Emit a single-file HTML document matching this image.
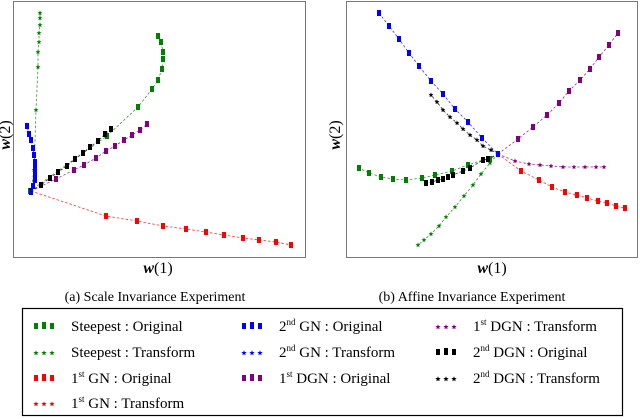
<!DOCTYPE html>
<html><head><meta charset="utf-8"><style>
body{margin:0;background:#fff;}
svg{display:block;font-family:"Liberation Serif",serif;}
</style></head><body>
<svg id="fig" width="640" height="419" viewBox="0 0 640 419">
<rect x="13.5" y="1.5" width="292" height="256" fill="none" stroke="#777" stroke-width="1"/>
<rect x="346.5" y="1.5" width="291" height="256" fill="none" stroke="#777" stroke-width="1"/>
<g id="pa"></g>
<g id="pb"></g>
<text x="158" y="273" font-size="16" text-anchor="middle" font-style="italic" font-weight="bold">w<tspan font-style="normal" font-weight="normal">(1)</tspan></text>
<text x="492" y="273" font-size="16" text-anchor="middle" font-style="italic" font-weight="bold">w<tspan font-style="normal" font-weight="normal">(1)</tspan></text>
<text transform="translate(10,135) rotate(-90)" font-size="16" text-anchor="middle" font-style="italic" font-weight="bold">w<tspan font-style="normal" font-weight="normal">(2)</tspan></text>
<text transform="translate(340,135) rotate(-90)" font-size="16" text-anchor="middle" font-style="italic" font-weight="bold">w<tspan font-style="normal" font-weight="normal">(2)</tspan></text>
<text x="155" y="301" font-size="14" text-anchor="middle">(a) Scale Invariance Experiment</text>
<text x="472" y="301" font-size="14" text-anchor="middle">(b) Affine Invariance Experiment</text>
<rect x="22.5" y="308.5" width="600" height="107" fill="none" stroke="#000" stroke-width="1.2"/>
<g id="leg"></g>
</svg>
<script>
// Panel A data (plot units)
const aGreenOrigX=[17,94,125,139,145,149,150,150,148,145];
const aGreenOrigY=[66,121,150,168,177,188,198,205,215,221];
const aGreenStarX=[18,21,23,25,25,26,26,27,27,27];
const aGreenStarY=[66,87,147,190,205,215,224,232,239,244];
const aBlueX=[18,20,22,22,22,22,21,20,18,16,14];
const aBlueY=[65,71,77,83,89,95,102,109,117,123,131];
const aBlackX=[18,28,37,45,54,62,70,77,85,92,98];
const aBlackY=[66,72,79,85,91,98,104,110,116,123,128];
const aPurpleX=[18,43,61,71,83,93,102,111,119,127,134];
const aPurpleY=[66,78,87,92,99,106,111,117,122,127,133];
const aRedX=[18,93,124,150,173,193,211,230,246,263,278];
const aRedY=[66,41,36,31,28,25,22,19,17,15,12];
// Panel B data
const bBlueX=[33,43,53,63,73,85,97,109,122,136,152];
const bBlueY=[244,231,218,204,191,176,163,148,135,119,103];
const bPurpleX=[152,172,187,201,213,223,234,244,253,263,272];
const bPurpleY=[103,118,130,142,154,166,177,188,200,212,224];
const bPurpleStarX=[152,169,183,194,205,217,228,239,250,258];
const bPurpleStarY=[103,96,93,92,91,90,90,90,90,90];
const bRedX=[152,175,193,206,219,231,241,252,261,270,279];
const bRedY=[103,86,77,70,65,62,59,56,54,51,49];
const bGreenStarX=[152,144,135,127,118,109,100,93,85,78,72];
const bGreenStarY=[103,94,83,72,61,50,40,31,23,17,12];
const bGreenX=[152,144,137,122,106,89,76,60,47,35,23,13];
const bGreenY=[103,98,97,92,86,82,79,77,78,80,84,89];
const bBlackX=[152,142,137,124,117,107,102,97,92,86,80];
const bBlackY=[103,98,97,89,86,82,80,78,77,75,74];
const bBlackStarX=[152,145,137,131,124,117,111,104,97,91,85];
const bBlackStarY=[103,107,111,117,122,128,134,140,147,155,162];

const NS='http://www.w3.org/2000/svg';
function mk(t,a,p){const e=document.createElementNS(NS,t);for(const k in a)e.setAttribute(k,a[k]);p.appendChild(e);return e;}
function starPts(cx,cy,r){let s='';for(let i=0;i<10;i++){const rr=i%2?r*0.45:r;const an=-Math.PI/2+i*Math.PI/5;s+=(cx+rr*Math.cos(an)).toFixed(1)+','+(cy+rr*Math.sin(an)).toFixed(1)+' ';}return s;}
function series(g,sx,sy,xs,ys,col,star,name){
  const sg=mk('g',{},g);
  
  
  const d=xs.map((v,i)=>(i?'L':'M')+sx(v).toFixed(1)+','+sy(ys[i]).toFixed(1)).join('');
  const p=mk('path',{d:d,fill:'none',stroke:col,'stroke-width':0.8,'stroke-dasharray':'2.5,2',opacity:0.8},sg);
  
  
  xs.forEach((v,i)=>{
    let m;
    if(star) m=mk('polygon',{points:starPts(sx(v),sy(ys[i]),2.6),fill:col},sg);
    else m=mk('rect',{x:sx(v)-2,y:sy(ys[i])-3,width:4,height:6,fill:col},sg);
    
    
  });
}
const ax=v=>13+v, ay=v=>257-v;
const bx=v=>346+v, by=v=>257-v;
const pa=document.getElementById('pa'), pb=document.getElementById('pb');
const G='#008000',R='#ff0000',B='#0000ff',P='#800080',K='#000';
series(pa,ax,ay,aRedX,aRedY,R,false,'a-first-gn-original');
series(pa,ax,ay,aPurpleX,aPurpleY,P,false,'a-first-dgn-original');
series(pa,ax,ay,aGreenOrigX,aGreenOrigY,G,false,'a-steepest-original');
series(pa,ax,ay,aBlackX,aBlackY,K,false,'a-second-dgn-original');
series(pa,ax,ay,aGreenStarX,aGreenStarY,G,true,'a-steepest-transform');
series(pa,ax,ay,aBlueX,aBlueY,B,false,'a-second-gn-original');
series(pb,bx,by,bPurpleX,bPurpleY,P,false,'b-first-dgn-original');
series(pb,bx,by,bPurpleStarX,bPurpleStarY,P,true,'b-first-dgn-transform');
series(pb,bx,by,bRedX,bRedY,R,false,'b-first-gn-original');
series(pb,bx,by,bGreenStarX,bGreenStarY,G,true,'b-steepest-transform');
series(pb,bx,by,bGreenX,bGreenY,G,false,'b-steepest-original');
series(pb,bx,by,bBlackX,bBlackY,K,false,'b-second-dgn-original');
series(pb,bx,by,bBlackStarX,bBlackStarY,K,true,'b-second-dgn-transform');
series(pb,bx,by,bBlueX,bBlueY,B,false,'b-second-gn-original');

// Legend
const legLabels=[['Steepest : Original',''],['Steepest : Transform',''],['1','st| GN : Original'],['1','st| GN : Transform'],
 ['2','nd| GN : Original'],['2','nd| GN : Transform'],['1','st| DGN : Original'],
 ['1','st| DGN : Transform'],['2','nd| DGN : Original'],['2','nd| DGN : Transform']];
const legCols=[G,G,R,R,B,B,P,P,K,K];
const legStar=[0,1,0,1,0,1,0,1,0,1];
const legPos=[[0,0],[0,1],[0,2],[0,3],[1,0],[1,1],[1,2],[2,0],[2,1],[2,2]];
const leg=document.getElementById('leg');
const colX=[34,242,436], rowY=[326,352,378,403];
legLabels.forEach((lab,i)=>{
  const g=mk('g',{},leg);
  
  
  const x0=colX[legPos[i][0]], y0=rowY[legPos[i][1]];
  for(let k=0;k<3;k++){
    const cx=x0+2+k*8;
    if(legStar[i]) mk('polygon',{points:starPts(cx,y0+1,2.8),fill:legCols[i]},g);
    else mk('rect',{x:cx-2,y:y0-3+(k==1?-1:0),width:4,height:k==1?7:6,fill:legCols[i]},g);
  }
  const t=mk('text',{x:x0+37,y:y0+5,'font-size':15},g);
  if(lab[1]===''){t.textContent=lab[0];}
  else{
    const parts=lab[1].split('|');
    t.appendChild(document.createTextNode(lab[0]));
    const s=mk('tspan',{'font-size':9,dy:-6},t);s.textContent=parts[0];
    const r=mk('tspan',{dy:6},t);r.textContent=parts[1];
  }
});
</script>
</body></html>
